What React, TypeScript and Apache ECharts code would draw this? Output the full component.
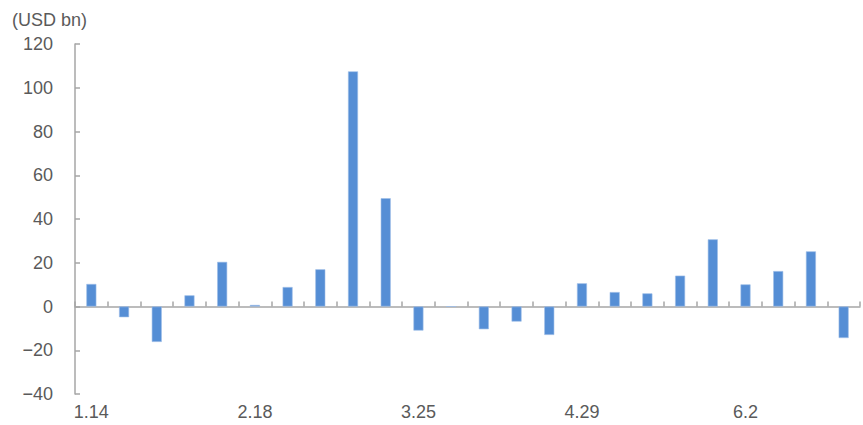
import React, { useEffect, useRef } from "react";
import * as echarts from "echarts";

const categories = [
  "1.14", "1.21", "1.28", "2.4", "2.11", "2.18", "2.25", "3.4", "3.11", "3.18", "3.25", "4.1",
  "4.8", "4.15", "4.22", "4.29", "5.6", "5.13", "5.20", "5.27", "6.2", "6.9", "6.16", "6.23",
];
const values = [
  10.3, -4.9, -16.2, 5.1, 20.4, 0.7, 8.9, 17.0, 107.5, 49.5, -11.0, 0,
  -10.4, -6.9, -13.0, 10.6, 6.6, 6.0, 14.1, 30.7, 10.1, 16.2, 25.2, -14.4,
];
const yMin = -40;
const yMax = 120;
const yStep = 20;
const unitLabel = "(USD bn)";

const FONT = "'Liberation Sans', Arial, sans-serif";
const AXIS_GREY = "#a6a6a6";
const TEXT_GREY = "#5a5a5a";

export default function App() {
  const ref = useRef<HTMLDivElement>(null);
  useEffect(() => {
    if (!ref.current) return;
    const chart = echarts.init(ref.current, undefined, { renderer: "svg" });
    chart.setOption({
      animation: false,
      backgroundColor: "#ffffff",
      grid: { left: 75, right: 3, top: 44, bottom: 31, containLabel: false },
      graphic: [
        {
          type: "text",
          left: 12,
          top: 11,
          style: { text: unitLabel, font: `18px ${FONT}`, fill: TEXT_GREY },
        },
      ],
      xAxis: [
        {
          type: "category",
          data: categories,
          boundaryGap: true,
          axisLine: { onZero: true, lineStyle: { color: AXIS_GREY, width: 1.5 } },
          axisTick: { show: true, inside: true, length: 5, interval: 0, lineStyle: { color: AXIS_GREY, width: 1.5 } },
          axisLabel: { show: false },
          splitLine: { show: false },
        },
        {
          type: "category",
          data: categories,
          position: "bottom",
          boundaryGap: true,
          axisLine: { show: false, onZero: false },
          axisTick: { show: false },
          axisLabel: {
            show: true,
            interval: 4,
            margin: 9,
            color: TEXT_GREY,
            fontSize: 18,
            fontFamily: FONT,
          },
          splitLine: { show: false },
        },
      ],
      yAxis: {
        type: "value",
        min: yMin,
        max: yMax,
        interval: yStep,
        axisLine: { show: true, lineStyle: { color: AXIS_GREY, width: 1.5 } },
        axisTick: { show: true, inside: true, length: 5, lineStyle: { color: AXIS_GREY, width: 1.5 } },
        axisLabel: {
          color: TEXT_GREY,
          fontSize: 18,
          fontFamily: FONT,
          margin: 22,
          formatter: (v: number) => (v < 0 ? "\u2212" + Math.abs(v) : String(v)),
        },
        splitLine: { show: false },
      },
      series: [
        {
          type: "bar",
          xAxisIndex: 0,
          data: values,
          barWidth: 10,
          itemStyle: { color: "#558ED5", borderColor: "#9dbde8", borderWidth: 0.6 },
        },
      ],
    });
    return () => chart.dispose();
  }, []);
  return (
    <div
      ref={ref}
      style={{ position: "fixed", left: 0, top: 0, width: 863, height: 425, background: "#fff" }}
    />
  );
}
